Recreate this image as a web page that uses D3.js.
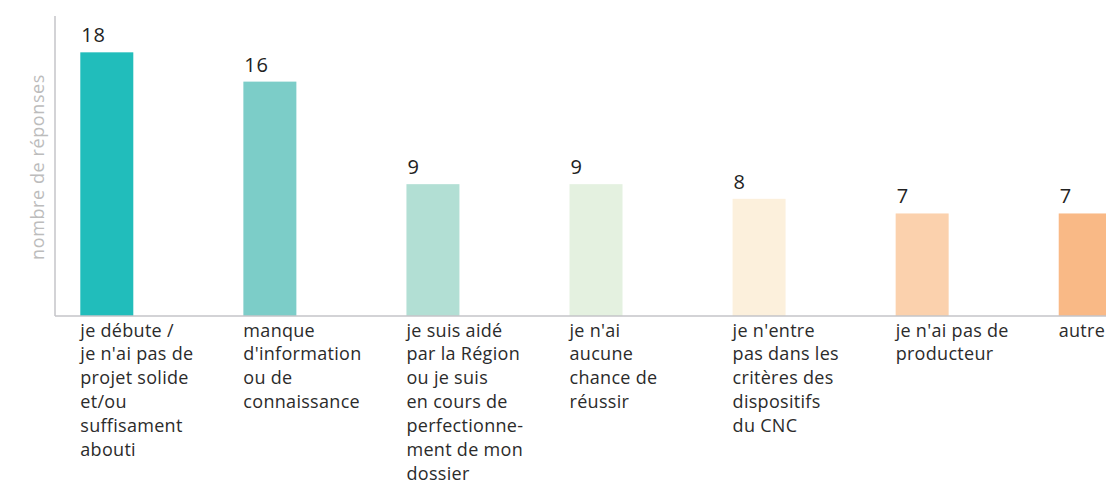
<!DOCTYPE html>
<html>
<head>
<meta charset="utf-8">
<script src="https://cdn.jsdelivr.net/npm/d3@7"></script>
<style>
  body { margin: 0; background: #fff; }
  svg { display: block; font-family: 'Open Sans', Lato, sans-serif; }
</style>
</head>
<body>
<svg id="canvas" width="1106" height="485"></svg>
<script>
  'use strict'
  // one entry per bar, label lines as in the original
  var categories = ['debute', 'information', 'region', 'chance', 'cnc', 'producteur', 'autre']
  var labels = [
    ['je débute /', 'je n\'ai pas de', 'projet solide', 'et/ou', 'suffisament', 'abouti'],
    ['manque', 'd\'information', 'ou de', 'connaissance'],
    ['je suis aidé', 'par la Région', 'ou je suis', 'en cours de', 'perfectionne-', 'ment de mon', 'dossier'],
    ['je n\'ai', 'aucune', 'chance de', 'réussir'],
    ['je n\'entre', 'pas dans les', 'critères des', 'dispositifs', 'du CNC'],
    ['je n\'ai pas de', 'producteur'],
    ['autre']
  ]
  var values = [18, 16, 9, 9, 8, 7, 7]
  var colors = ['#21bdbb', '#7ccdc8', '#b2dfd4', '#e4f1e0', '#fcf0dc', '#fbd1ad', '#f9b986']

  var Chart = (function (d3) {
    var width = 1106
    var left = 55
    var baseline = 316
    var axisTop = 16
    var step = 163.07
    var barWidth = 53
    var firstBar = 80.3

    var svg = d3.select('#canvas')

    var pad = 1 - barWidth / step
    var x = d3.scaleBand()
      .domain(categories)
      .range([firstBar, firstBar + step * (categories.length - pad)])
      .paddingInner(pad)
      .paddingOuter(0)

    var y = d3.scaleLinear()
      .domain([0, 20.48])
      .range([baseline, axisTop])

    svg.selectAll('rect.bar')
      .data(values)
      .enter().append('rect')
      .attr('class', 'bar')
      .attr('x', function (d, i) { return x(categories[i]) })
      .attr('y', function (d) { return y(d) })
      .attr('width', x.bandwidth())
      .attr('height', function (d) { return y(0) - y(d) })
      .attr('fill', function (d, i) { return colors[i] })

    // axes: plain lines, no ticks
    svg.append('line')
      .attr('x1', left).attr('x2', left)
      .attr('y1', axisTop).attr('y2', baseline)
      .attr('stroke', '#c4c4c8').attr('stroke-width', 1.5)
    svg.append('line')
      .attr('x1', left).attr('x2', width)
      .attr('y1', baseline).attr('y2', baseline)
      .attr('stroke', '#c4c4c8').attr('stroke-width', 1.5)

    svg.selectAll('text.value')
      .data(values)
      .enter().append('text')
      .attr('class', 'value')
      .attr('x', function (d, i) { return x(categories[i]) + 1 })
      .attr('y', function (d) { return y(d) - 10 })
      .attr('font-size', 20)
      .attr('letter-spacing', 0.8)
      .attr('fill', '#222')
      .text(function (d) { return d })

    var lbl = svg.selectAll('text.cat')
      .data(labels)
      .enter().append('text')
      .attr('class', 'cat')
      .attr('font-size', 18)
      .attr('letter-spacing', 0.3)
      .attr('fill', '#2b2b2b')
    lbl.selectAll('tspan')
      .data(function (d, i) { return d.map(function (t) { return { t: t, i: i } }) })
      .enter().append('tspan')
      .attr('x', function (d) { return x(categories[d.i]) })
      .attr('y', function (d, j) { return 336.5 + j * 23.9 })
      .text(function (d) { return d.t })

    svg.append('text')
      .attr('transform', 'translate(44,' + ((axisTop + baseline) / 2 + 1) + ') rotate(-90)')
      .attr('text-anchor', 'middle')
      .attr('font-size', 18)
      .attr('letter-spacing', 0.6)
      .attr('fill', '#bcbcbc')
      .text('nombre de réponses')

    return { x: x, y: y }
  })(d3)
</script>
</body>
</html>
